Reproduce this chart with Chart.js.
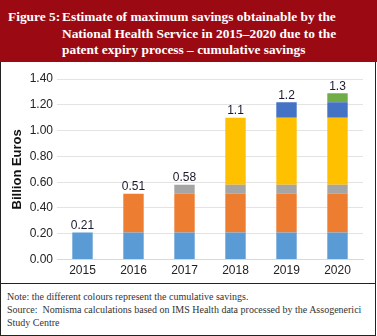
<!DOCTYPE html>
<html>
<head>
<meta charset="utf-8">
<script src="https://cdn.jsdelivr.net/npm/chart.js@4.4.1/dist/chart.umd.min.js"></script>
<style>
  html, body { margin: 0; padding: 0; background: #fff; }
  #page { position: relative; width: 377px; height: 336px; overflow: hidden; }
  #header {
    position: absolute; left: 0; top: 0; width: 377px; height: 62px;
    background: #9b0a12; color: #fff;
    font-family: "Liberation Serif", serif; font-weight: bold; font-size: 13.4px; line-height: 16.5px;
    white-space: nowrap;
  }
  #header .fig { position: absolute; left: 8px; top: 9px; }
  #header .txt { position: absolute; left: 62px; top: 9px; }
  #box {
    position: absolute; left: 0; top: 62px; width: 376px; height: 274px;
    border-left: 1.5px solid #222; border-right: 1.5px solid #222; border-bottom: 1.5px solid #222;
    box-sizing: border-box;
  }
  #sep { position: absolute; left: 0; top: 283px; width: 376px; height: 0; border-top: 1px solid #222; }
  #chartWrap { position: absolute; left: 2px; top: 62px; width: 372px; height: 221px; }
  #notes {
    position: absolute; left: 7px; top: 290px; width: 364px;
    font-family: "Liberation Serif", serif; font-size: 10px; line-height: 13px; color: #333;
  }
</style>
</head>
<body>
<div id="page">
  <div id="header">
    <div class="fig">Figure 5:</div>
    <div class="txt">Estimate of maximum savings obtainable by the<br>National Health Service in 2015–2020 due to the<br>patent expiry process – cumulative savings</div>
  </div>
  <div id="box"></div>
  <div id="sep"></div>
  <div id="chartWrap"><canvas id="savingsChart"></canvas></div>
  <div id="notes">
    Note: the different colours represent the cumulative savings.<br>
    Source:&nbsp; Nomisma calculations based on IMS Health data processed by the Assogenerici<br>Study Centre
  </div>
</div>
<script>
const years = ['2015', '2016', '2017', '2018', '2019', '2020'];

// savings added by each year's expiries (billion euros), stacked cumulatively
const from2015 = [0.21, 0.21, 0.21, 0.21, 0.21, 0.21];
const from2016 = [0, 0.30, 0.30, 0.30, 0.30, 0.30];
const from2017 = [0, 0, 0.07, 0.07, 0.07, 0.07];
const from2018 = [0, 0, 0, 0.52, 0.52, 0.52];
const from2019 = [0, 0, 0, 0, 0.12, 0.12];
const from2020 = [0, 0, 0, 0, 0, 0.07];

const yTicks = [0, 0.2, 0.4, 0.6, 0.8, 1.0, 1.2, 1.4];

const layers = [from2015, from2016, from2017, from2018, from2019, from2020];
const colours = ['#5b9bd5', '#ed7d31', '#a5a5a5', '#ffc000', '#4472c4', '#70ad47'];

const totals = years.map((y, i) => layers.reduce((s, l) => s + l[i], 0));

function fmtTotal(v) {
    return v >= 1 ? v.toFixed(1) : v.toFixed(2);
}

// writes the cumulative total above each stack
const totalLabels = {
    id: 'totalLabels',
    afterDatasetsDraw(chart) {
        const ctx = chart.ctx;
        const yScale = chart.scales.y;
        const xScale = chart.scales.x;
        ctx.save();
        ctx.font = '12px "Liberation Sans", Arial, sans-serif';
        ctx.fillStyle = '#1a1a2e';
        ctx.textAlign = 'center';
        ctx.textBaseline = 'bottom';
        totals.forEach((t, i) => {
            ctx.fillText(fmtTotal(t), xScale.getPixelForValue(i), yScale.getPixelForValue(t) - 1);
        });
        ctx.restore();
    }
};

new Chart(document.getElementById('savingsChart'), {
    type: 'bar',
    data: {
        labels: years,
        datasets: layers.map((l, i) => ({
            data: l,
            backgroundColor: colours[i],
            borderWidth: 0,
            barPercentage: 0.4,
            categoryPercentage: 1.0
        }))
    },
    options: {
        responsive: true,
        maintainAspectRatio: false,
        animation: false,
        layout: { padding: { top: 17, right: 11, left: 8, bottom: 1 } },
        plugins: {
            legend: { display: false },
            tooltip: { enabled: false }
        },
        scales: {
            x: {
                stacked: true,
                grid: { display: false, drawTicks: false },
                border: { color: '#d9d9d9', width: 1 },
                ticks: {
                    color: '#222',
                    font: { family: '"Liberation Sans", Arial, sans-serif', size: 12 },
                    padding: 4
                }
            },
            y: {
                stacked: true,
                min: 0,
                max: 1.4,
                afterBuildTicks(scale) {
                    scale.ticks = yTicks.map(v => ({ value: v }));
                },
                afterFit(scale) {
                    scale.width = 47;
                },
                grid: { color: '#e3e3e3', lineWidth: 1, drawTicks: false },
                border: { display: false },
                ticks: {
                    color: '#222',
                    font: { family: '"Liberation Sans", Arial, sans-serif', size: 12 },
                    padding: 4,
                    callback: v => v.toFixed(2)
                },
                title: {
                    display: true,
                    text: 'Billion Euros',
                    color: '#111',
                    font: { family: '"Liberation Sans", Arial, sans-serif', size: 13, weight: 'bold' },
                    padding: { top: 0, bottom: 0 }
                }
            }
        }
    },
    plugins: [totalLabels]
});
</script>
</body>
</html>
